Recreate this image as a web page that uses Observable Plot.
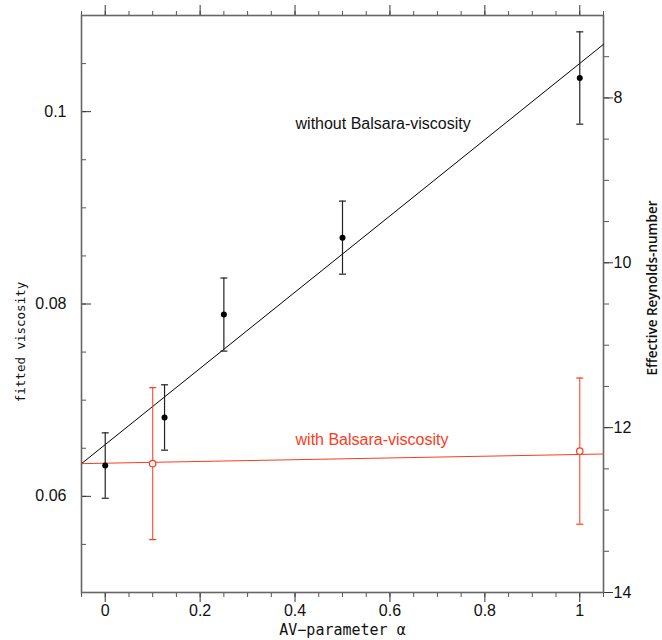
<!DOCTYPE html>
<html>
<head>
<meta charset="utf-8">
<script src="https://cdn.jsdelivr.net/npm/d3@7"></script>
<script src="https://cdn.jsdelivr.net/npm/@observablehq/plot@0.6"></script>
<style>
  html, body { margin: 0; padding: 0; background: #fff; }
</style>
</head>
<body>
<div id="chart"></div>
<script>
// ---- data ----
const blackAlpha = [0, 0.125, 0.25, 0.5, 1];
const blackNu    = [0.0632, 0.0682, 0.0789, 0.0869, 0.1035];
const blackErr   = [0.0034, 0.0034, 0.0038, 0.0038, 0.0048];

const redAlpha = [0.1, 1];
const redNu    = [0.0634, 0.0647];
const redErr   = [0.0079, 0.0076];

// fitted straight lines (end points at the frame edges)
const fitAlpha = [-0.05, 1.05];
const blackFit = [0.0634, 0.1070];
const redFit   = [0.0634, 0.0644];

// axes
const xDomain = [-0.05, 1.05];
const yDomain = [0.05, 0.11];
const xMajor = [0, 0.2, 0.4, 0.6, 0.8, 1];
const xMinor = d3.range(-0.05, 1.051, 0.05).map(v => +v.toFixed(2));
const yMajor = [0.06, 0.08, 0.1];
const yMinor = d3.range(0.055, 0.1051, 0.005).map(v => +v.toFixed(3));
// right axis: Effective Reynolds-number, linear, 14 at bottom, 7 at top
const reDomain = [14, 7];
const reMajor = [8, 10, 12, 14];
const reMinor = d3.range(7.5, 14, 0.5);

const labels = [
  {a: 0.401, nu: 0.0987, text: "without Balsara-viscosity", color: "#111"},
  {a: 0.401, nu: 0.0659, text: "with Balsara-viscosity", color: "#ff3a1c"}
];

// ---- build tables ----
const black = blackAlpha.map((a, i) => ({a, nu: blackNu[i], err: blackErr[i]}));
const red = redAlpha.map((a, i) => ({a, nu: redNu[i], err: redErr[i]}));
const blackLine = fitAlpha.map((a, i) => ({a, nu: blackFit[i]}));
const redLine = fitAlpha.map((a, i) => ({a, nu: redFit[i]}));

const reToNu = d3.scaleLinear().domain(reDomain).range(yDomain);

const cap = {draw(ctx) { ctx.moveTo(-3.5, 0); ctx.lineTo(3.5, 0); }};
const RED = "#ff3a1c";
const AX = "#555";

const ticksY = (data, anchor, size, stroke) =>
  Plot.axisY(data, {anchor, tickSize: size, fill: "none", stroke, label: null});
const ticksX = (data, anchor, size, stroke) =>
  Plot.axisX(data, {anchor, tickSize: size, fill: "none", stroke, label: null});

const chart = Plot.plot({
  width: 662,
  height: 640,
  marginLeft: 81,
  marginRight: 59,
  marginTop: 15,
  marginBottom: 48,
  x: {domain: xDomain, label: null},
  y: {domain: yDomain, label: null},
  style: {fontFamily: "'Liberation Sans', Arial, Helvetica, sans-serif", fontSize: "16px", background: "white"},
  marks: [
    // ticks
    ticksY(yMinor, "left", -5, AX),
    ticksY(yMajor, "left", -10, "#333"),
    Plot.axisY(yMajor, {anchor: "left", tickSize: 0, tickPadding: 15, tickFormat: d => String(d), fill: "#111", label: null}),
    ticksY(reMinor.map(reToNu), "right", 5, AX),
    ticksY(reMajor.map(reToNu), "right", 9, "#333"),
    Plot.axisY(reMajor.map(reToNu), {anchor: "right", tickSize: 0, tickPadding: 10, tickFormat: d => String(Math.round(reToNu.invert(d))), fill: "#111", label: null}),
    ticksX(xMinor, "top", 5, AX),
    ticksX(xMajor, "top", 11, "#333"),
    ticksX(xMinor, "bottom", 5, AX),
    ticksX(xMajor, "bottom", 10, "#333"),
    Plot.axisX(xMajor, {anchor: "bottom", tickSize: 0, tickPadding: 12, tickFormat: d => String(d), fill: "#111", label: null}),
    Plot.frame({stroke: "#666", strokeWidth: 1.6}),
    // fit lines
    Plot.line(blackLine, {x: "a", y: "nu", stroke: "#000", strokeWidth: 1}),
    Plot.line(redLine, {x: "a", y: "nu", stroke: RED, strokeWidth: 1}),
    // error bars
    Plot.ruleX(black, {x: "a", y1: d => d.nu - d.err, y2: d => d.nu + d.err, stroke: "#222", strokeWidth: 1.2}),
    Plot.dot(black, {x: "a", y: d => d.nu + d.err, symbol: cap, r: 3, stroke: "#222", strokeWidth: 1.2}),
    Plot.dot(black, {x: "a", y: d => d.nu - d.err, symbol: cap, r: 3, stroke: "#222", strokeWidth: 1.2}),
    Plot.ruleX(red, {x: "a", y1: d => d.nu - d.err, y2: d => d.nu + d.err, stroke: RED, strokeOpacity: 0.85, strokeWidth: 1.2}),
    Plot.dot(red, {x: "a", y: d => d.nu + d.err, symbol: cap, r: 3, stroke: RED, strokeWidth: 1.2}),
    Plot.dot(red, {x: "a", y: d => d.nu - d.err, symbol: cap, r: 3, stroke: RED, strokeWidth: 1.2}),
    // points
    Plot.dot(black, {x: "a", y: "nu", r: 3, fill: "#000"}),
    Plot.dot(red, {x: "a", y: "nu", r: 3.2, fill: "white", stroke: RED, strokeWidth: 1.2}),
    // annotations
    Plot.text(labels, {x: "a", y: "nu", text: "text", fill: "color", textAnchor: "start", fontSize: 16}),
    // axis titles
    Plot.text(["fitted viscosity"], {frameAnchor: "left", textAnchor: "middle", dx: -61, dy: 38, rotate: -90, fontFamily: "'DejaVu Sans Mono', monospace", fontSize: 12.5, fill: "#111"}),
    Plot.text(["AV\u2212parameter \u03b1"], {frameAnchor: "bottom", textAnchor: "middle", dy: 42, fontFamily: "'DejaVu Sans Mono', monospace", fontSize: 15, fill: "#111"}),
    Plot.text(["Effective Reynolds-number"], {frameAnchor: "right", textAnchor: "middle", dx: 49, dy: -16, rotate: -90, fontFamily: "'Open Sans', sans-serif", fontSize: 13.5, fontWeight: 600, fill: "#111"})
  ]
});
document.getElementById("chart").appendChild(chart);
</script>
</body>
</html>
